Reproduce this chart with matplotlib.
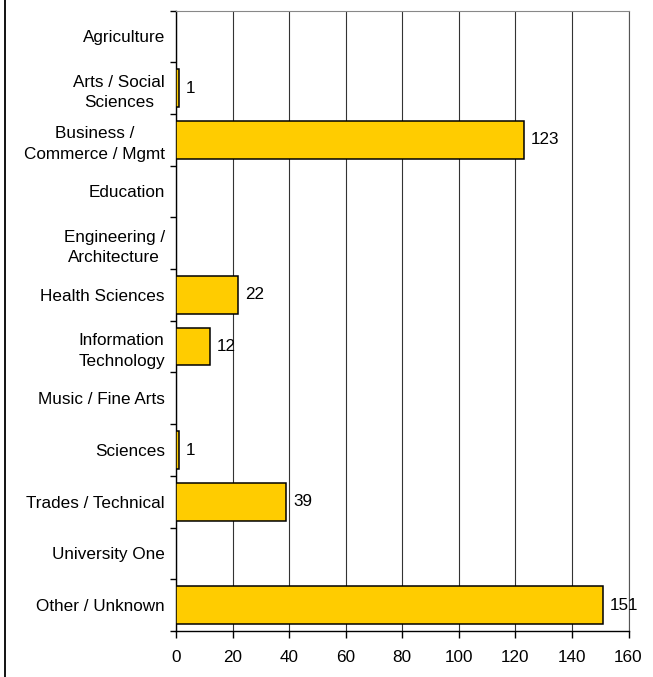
import numpy as np
import matplotlib
matplotlib.use("Agg")
import matplotlib.pyplot as plt
from matplotlib.lines import Line2D

categories = ["Agriculture", "Arts / Social\nSciences", "Business /\nCommerce / Mgmt",
              "Education", "Engineering /\nArchitecture", "Health Sciences",
              "Information\nTechnology", "Music / Fine Arts", "Sciences",
              "Trades / Technical", "University One", "Other / Unknown"]
values = [np.nan, 1, 123, np.nan, np.nan, 22, 12, np.nan, 1, 39, np.nan, 151]
xticks = [0, 20, 40, 60, 80, 100, 120, 140, 160]

plt.rcParams['font.family'] = ['Liberation Sans', 'DejaVu Sans']
FS = 12.3

fig = plt.figure(figsize=(6.53, 6.77), dpi=100)
ax = fig.add_axes([176/653, 1 - 631/677, (628.5 - 176)/653, (631 - 10.5)/677])

y = np.arange(len(categories))
bars = ax.barh(y, values, height=0.73, color='#FFCC00', edgecolor='black',
               linewidth=1.1, zorder=3)
labels = ["" if np.isnan(v) else f"{int(v)}" for v in values]
ax.bar_label(bars, labels=labels, padding=5, fontsize=FS, zorder=4)

ax.set_xlim(0, 160)
ax.set_ylim(len(categories) - 0.5, -0.5)
ax.set_xticks(xticks)
ax.set_xticklabels([str(t) for t in xticks], fontsize=FS)
ax.set_yticks(y)
ax.set_yticklabels(categories, fontsize=FS, linespacing=1.45, multialignment='center')
ax.tick_params(axis='y', which='major', length=0, pad=8)
ax.set_yticks(np.arange(-0.5, len(categories)), minor=True)
ax.tick_params(axis='y', which='minor', length=4, width=1, color='black', direction='out')
ax.tick_params(axis='x', which='major', length=5, width=1, color='black', direction='out', pad=9)

ax.grid(axis='x', color='#333333', linewidth=0.8, zorder=0)
ax.set_axisbelow(True)
for s in ['left', 'bottom']:
    ax.spines[s].set_color('black')
    ax.spines[s].set_linewidth(1.0)
ax.spines['top'].set_color('#888888')
ax.spines['top'].set_linewidth(0.8)
ax.spines['right'].set_color('#555555')
ax.spines['right'].set_linewidth(0.8)

fig.add_artist(Line2D([5/653, 5/653], [0, 1], transform=fig.transFigure,
                      color='black', linewidth=1.3))

fig.savefig("out.png", dpi=100)
